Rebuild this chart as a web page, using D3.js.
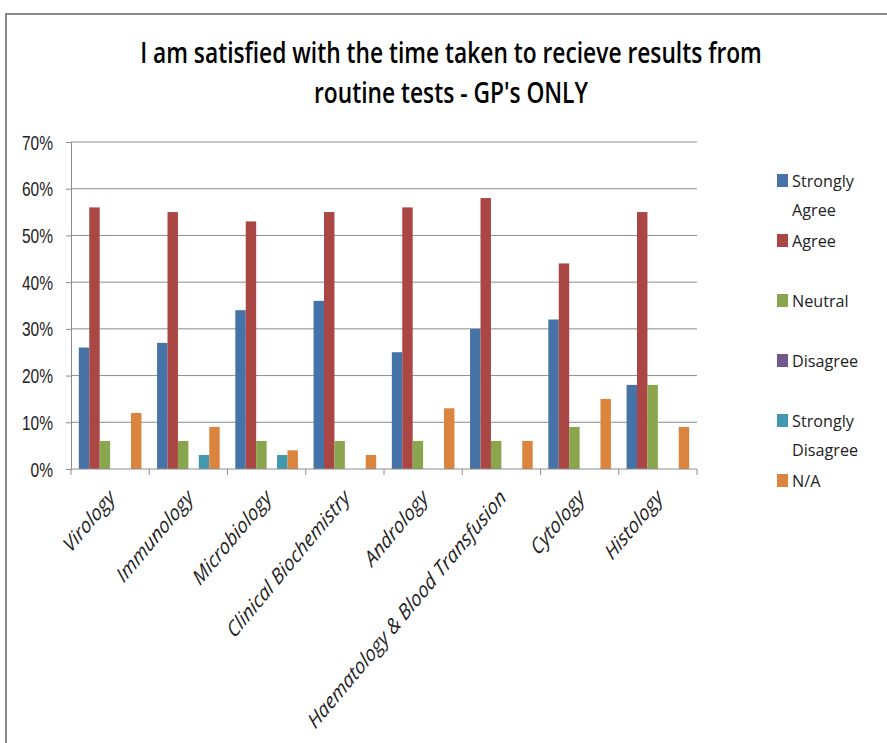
<!DOCTYPE html>
<html lang="en">
<head>
<meta charset="utf-8">
<title>GP satisfaction chart</title>
<style>
  body { margin: 0; background: #fff; }
  svg { display: block; font-family: "Open Sans", sans-serif; }
  .title { font-size: 28px; font-weight: 600; fill: #000; }
  .axis text, .axis-probe { font-size: 20px; fill: #222; }
  .xlabel { font-size: 18px; font-style: italic; fill: #222; }
  .legend text, .legend-probe { font-size: 17px; fill: #222; }
</style>
</head>
<body>
<div id="chart"></div>
<script src="https://d3js.org/d3.v7.min.js"></script>
<script>
(function () {
  'use strict';

  var categories = ['Virology', 'Immunology', 'Microbiology', 'Clinical Biochemistry',
    'Andrology', 'Haematology & Blood Transfusion', 'Cytology', 'Histology'];
  var seriesNames = ['Strongly Agree', 'Agree', 'Neutral', 'Disagree', 'Strongly Disagree', 'N/A'];
  var stronglyAgree = [26, 27, 34, 36, 25, 30, 32, 18];
  var agree = [56, 55, 53, 55, 56, 58, 44, 55];
  var neutral = [6, 6, 6, 6, 6, 6, 9, 18];
  var disagree = [0, 0, 0, 0, 0, 0, 0, 0];
  var stronglyDisagree = [0, 3, 3, 0, 0, 0, 0, 0];
  var notApplicable = [12, 9, 4, 3, 13, 6, 15, 9];
  var yTicks = [0, 10, 20, 30, 40, 50, 60, 70];
  var colors = ['#4572A7', '#AA4643', '#89A54E', '#71588F', '#4198AF', '#DB843D'];

  var seriesValues = [stronglyAgree, agree, neutral, disagree, stronglyDisagree, notApplicable];

  var width = 887, height = 743;
  var left = 71, right = 697, top = 142, bottom = 469;

  var svg = d3.select('#chart').append('svg')
    .attr('width', width)
    .attr('height', height);

  // squeeze text horizontally (narrow Calibri look): width of a sample string -> target width
  function squeezeFactor(sample, cls, target) {
    var t = svg.append('text').attr('class', cls).text(sample);
    var len = t.node().getComputedTextLength();
    t.remove();
    return target / len;
  }

  // outer frame
  svg.append('rect')
    .attr('x', 6).attr('y', 14)
    .attr('width', width + 10).attr('height', height)
    .attr('fill', 'none')
    .attr('stroke', '#888')
    .attr('stroke-width', 2);

  var titleLines = ['I am satisfied with the time taken to recieve results from', 'routine tests - GP\'s ONLY'];
  var titleSx = squeezeFactor(titleLines[0], 'title', 622);
  svg.append('g')
    .attr('transform', 'translate(451,0) scale(' + titleSx + ',1)')
    .selectAll('text')
    .data(titleLines)
    .enter().append('text')
    .attr('class', 'title')
    .attr('text-anchor', 'middle')
    .attr('x', 0)
    .attr('y', function (d, i) { return 63 + i * 40; })
    .text(function (d) { return d; });

  var x0 = d3.scaleBand().domain(categories).range([left, right]).paddingInner(0).paddingOuter(0);
  var x1 = d3.scaleBand().domain(seriesNames).range([0, x0.bandwidth()]).paddingOuter(0.75).paddingInner(0);
  var y = d3.scaleLinear().domain([0, 70]).range([bottom, top]);

  // gridlines
  svg.append('g')
    .selectAll('line')
    .data(yTicks.slice(1))
    .enter().append('line')
    .attr('x1', left).attr('x2', right)
    .attr('y1', function (d) { return y(d); })
    .attr('y2', function (d) { return y(d); })
    .attr('stroke', '#8c8c8c')
    .attr('stroke-width', 1);

  // bars
  var groups = svg.append('g')
    .selectAll('g')
    .data(categories)
    .enter().append('g')
    .attr('transform', function (d) { return 'translate(' + x0(d) + ',0)'; });

  groups.selectAll('rect')
    .data(function (d, i) {
      return seriesNames.map(function (s, j) { return { s: s, v: seriesValues[j][i], c: colors[j] }; });
    })
    .enter().append('rect')
    .filter(function (d) { return d.v > 0; })
    .attr('x', function (d) { return x1(d.s); })
    .attr('width', x1.bandwidth())
    .attr('y', function (d) { return y(d.v); })
    .attr('height', function (d) { return y(0) - y(d.v); })
    .attr('fill', function (d) { return d.c; });

  // y axis
  var ySx = squeezeFactor('70%', 'axis-probe', 30.6);
  var yAxis = svg.append('g')
    .attr('class', 'axis')
    .attr('transform', 'translate(' + left + ',0)')
    .call(d3.axisLeft(y).tickValues(yTicks).tickSize(5).tickPadding(0)
      .tickFormat(function (d) { return d + '%'; }));
  yAxis.select('.domain').attr('stroke', '#8c8c8c');
  yAxis.selectAll('.tick line').attr('stroke', '#8c8c8c');
  yAxis.selectAll('.tick text')
    .attr('x', 0).attr('dy', null).attr('y', 7)
    .attr('transform', 'translate(-18,0) scale(' + ySx + ',1)');

  // x axis
  var xAxis = svg.append('g')
    .attr('transform', 'translate(0,' + bottom + ')');
  xAxis.append('line')
    .attr('x1', left).attr('x2', right)
    .attr('stroke', '#8c8c8c');
  xAxis.selectAll('.tick')
    .data(d3.range(categories.length + 1))
    .enter().append('line')
    .attr('x1', function (d) { return left + d * x0.bandwidth(); })
    .attr('x2', function (d) { return left + d * x0.bandwidth(); })
    .attr('y1', 0).attr('y2', 6)
    .attr('stroke', '#8c8c8c');
  // labels are slanted 45deg then stretched vertically, as in the source picture
  var xSx = squeezeFactor(categories[5], 'xlabel', 272);
  xAxis.selectAll('.lbl')
    .data(categories)
    .enter().append('text')
    .attr('class', 'xlabel')
    .attr('text-anchor', 'end')
    .attr('transform', function (d) {
      return 'translate(' + (x0(d) + x0.bandwidth() / 2 + 6) + ',30) scale(1,1.2) rotate(-45) scale(' + xSx + ',1)';
    })
    .text(function (d) { return d; });

  // legend
  var legendItems = [
    { lines: ['Strongly', 'Agree'], y: 187 },
    { lines: ['Agree'], y: 247 },
    { lines: ['Neutral'], y: 307 },
    { lines: ['Disagree'], y: 367 },
    { lines: ['Strongly', 'Disagree'], y: 427 },
    { lines: ['N/A'], y: 487 }
  ];
  var legSx = squeezeFactor('Strongly', 'legend-probe', 62);
  var legend = svg.append('g').attr('class', 'legend')
    .selectAll('g')
    .data(legendItems)
    .enter().append('g')
    .attr('transform', function (d) { return 'translate(777,' + d.y + ')'; });
  legend.append('rect')
    .attr('x', 0).attr('y', -13)
    .attr('width', 11).attr('height', 13)
    .attr('fill', function (d, i) { return colors[i]; });
  legend.append('g')
    .attr('transform', 'translate(15,0) scale(' + legSx + ',1)')
    .append('text')
    .selectAll('tspan')
    .data(function (d) { return d.lines; })
    .enter().append('tspan')
    .attr('x', 0)
    .attr('y', function (d, i) { return i * 29; })
    .text(function (d) { return d; });
})();
</script>
</body>
</html>
